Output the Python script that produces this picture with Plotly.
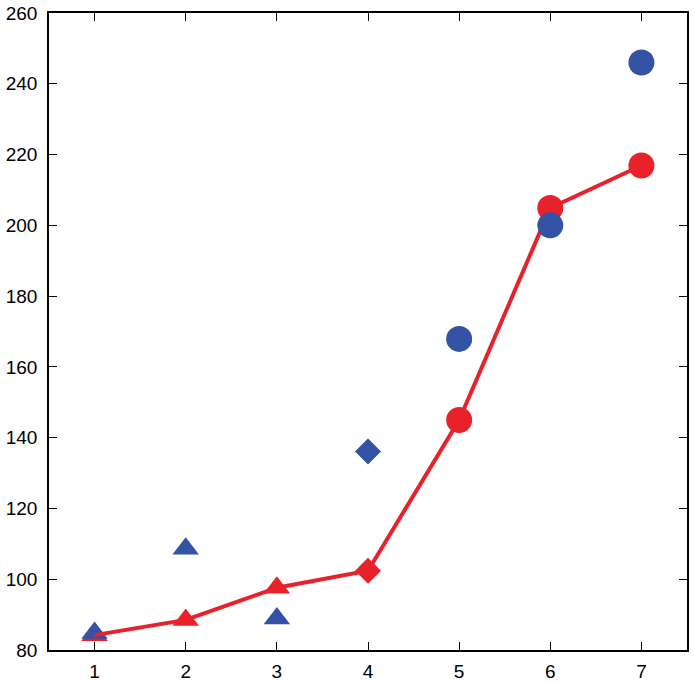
import plotly.graph_objects as go

# data
x_vals = [1, 2, 3, 4, 5, 6, 7]
red_y = [84.2, 88.5, 97.6, 102.4, 145.0, 204.9, 216.9]
blue_y = [84.8, 108.6, 88.9, 136.1, 167.9, 200.0, 246.0]
symbols = ['triangle-up', 'triangle-up', 'triangle-up', 'diamond', 'circle', 'circle', 'circle']

y_ticks = [80, 100, 120, 140, 160, 180, 200, 220, 240, 260]

RED = '#E8212B'
BLUE = '#3453A5'

size_for = {'triangle-up': 23, 'diamond': 20, 'circle': 26}
sizes = [size_for[s] for s in symbols]

fig = go.Figure()

tri = [i for i, s in enumerate(symbols) if s == 'triangle-up']
rest = [i for i, s in enumerate(symbols) if s != 'triangle-up']

# layering as in the reference: red markers, blue triangles, red line, blue rest
fig.add_trace(go.Scatter(
    x=x_vals, y=red_y, mode='markers',
    marker=dict(color=RED, symbol=symbols, size=sizes, opacity=1, line=dict(width=0)),
    showlegend=False))

fig.add_trace(go.Scatter(
    x=[x_vals[i] for i in tri], y=[blue_y[i] for i in tri], mode='markers',
    marker=dict(color=BLUE, symbol=[symbols[i] for i in tri], opacity=1,
                size=[sizes[i] for i in tri], line=dict(width=0)),
    showlegend=False))

fig.add_trace(go.Scatter(
    x=x_vals, y=red_y, mode='lines',
    line=dict(color=RED, width=4),
    showlegend=False))

fig.add_trace(go.Scatter(
    x=[x_vals[i] for i in rest], y=[blue_y[i] for i in rest], mode='markers',
    marker=dict(color=BLUE, symbol=[symbols[i] for i in rest], opacity=1,
                size=[sizes[i] for i in rest], line=dict(width=0)),
    showlegend=False))

axis_style = dict(showline=True, linecolor='black', linewidth=1.5, mirror='ticks',
                  ticks='inside', ticklen=8, tickwidth=1.2, tickcolor='black',
                  showgrid=False, zeroline=False, automargin=False,
                  tickfont=dict(family='Liberation Sans, Arial, sans-serif', size=19, color='black'))

fig.update_xaxes(range=[0.5, 7.5], tickvals=x_vals, ticklabelstandoff=3, **axis_style)
fig.update_yaxes(range=[80, 260], tickvals=y_ticks, ticklabelstandoff=6, **axis_style)

fig.update_layout(width=694, height=683,
                  margin=dict(l=49, r=7, t=13, b=33),
                  plot_bgcolor='white', paper_bgcolor='white', hovermode=False)

# drop the browser's default 8px body margin so the figure fills the window
fig.write_html("out.html", config={'displayModeBar': False},
               post_script="document.body.style.margin='0';document.body.style.overflow='hidden';")
